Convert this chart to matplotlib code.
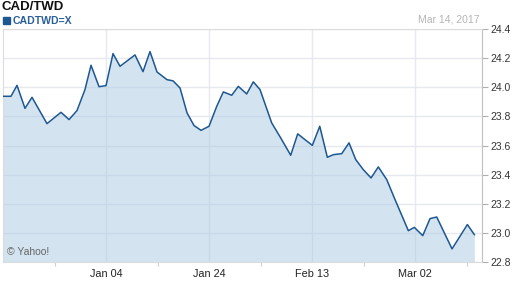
import matplotlib
matplotlib.use("Agg")
import matplotlib.pyplot as plt

# CAD/TWD, 3 month window (x = days from Dec 15)
days = [0, 1.55, 2.72, 4.27, 5.63, 8.54, 11.26, 12.82, 14.37, 15.92,
        17.09, 18.64, 20.0, 21.36, 22.72, 25.63, 27.18, 28.54, 29.9, 31.84,
        33.01, 34.37, 35.73, 37.09, 38.45, 40.0, 41.5, 42.78, 44.41, 45.69,
        47.32, 48.6, 49.9, 52.17, 53.92, 55.86, 57.22, 58.64, 60.06, 61.5,
        62.97, 64.14, 65.77, 67.18, 68.49, 69.96, 71.46, 72.87, 74.5, 76.12,
        78.7, 79.86, 81.5, 82.91, 84.21, 87.18, 90.16, 91.52]
rates = [23.938, 23.938, 24.013, 23.855, 23.931, 23.750, 23.828, 23.778, 23.840, 23.984,
         24.151, 24.004, 24.011, 24.231, 24.144, 24.222, 24.107, 24.245, 24.105, 24.052,
         24.044, 23.995, 23.824, 23.737, 23.704, 23.732, 23.869, 23.968, 23.945, 24.006,
         23.954, 24.037, 23.984, 23.755, 23.652, 23.533, 23.680, 23.640, 23.601, 23.732,
         23.519, 23.537, 23.544, 23.618, 23.503, 23.434, 23.377, 23.453, 23.366, 23.228,
         23.015, 23.038, 22.981, 23.098, 23.109, 22.890, 23.057, 22.988]

major_pos = [20, 40, 60, 80]
major_labels = ["Jan 04", "Jan 24", "Feb 13", "Mar 02"]
minor_pos = [10, 30, 50, 70, 90]
y_ticks = [22.8, 23.0, 23.2, 23.4, 23.6, 23.8, 24.0, 24.2, 24.4]

plt.rcParams['font.family'] = ['Liberation Sans', 'DejaVu Sans']

line_col = "#1d5791"
fig = plt.figure(figsize=(5.12, 2.88), dpi=100)
ax = fig.add_axes([3 / 512, 26 / 288, 479 / 512, 233 / 288])

ax.fill_between(days, rates, 22.8, color="#a9cbe3", alpha=0.5, lw=0, zorder=2)
ax.plot(days, rates, color=line_col, lw=1.1, zorder=3)

ax.set_xlim(0, 93.0)
ax.set_ylim(22.8, 24.4)
ax.set_yticks(y_ticks)
ax.set_yticklabels(["%.1f" % v for v in y_ticks])
ax.set_xticks(major_pos)
ax.set_xticklabels(major_labels)
ax.set_xticks(minor_pos, minor=True)

ax.yaxis.tick_right()
ax.grid(True, which="major", color="#e6e9ef", lw=1, zorder=1)
ax.tick_params(axis="y", which="major", direction="out", length=4, width=0.8,
               color="#b0b0b0", labelsize=7.5, labelcolor="#333333", pad=2)
ax.tick_params(axis="x", which="major", direction="out", length=0,
               labelsize=7.8, labelcolor="#222222", pad=5)
ax.tick_params(axis="x", which="minor", direction="out", length=3, width=0.8,
               color="#d0d0d0")
for side in ["left", "top", "bottom"]:
    ax.spines[side].set_color("#dcdcdc")
    ax.spines[side].set_linewidth(0.8)
ax.spines["right"].set_color("#c0c0c0")
ax.spines["right"].set_linewidth(0.8)

fig.text(1 / 512, 1 - 7 / 288, "CAD/TWD", fontsize=9.5, fontweight="bold",
         color="#111111", va="center", ha="left")
fig.patches.append(plt.Rectangle((3 / 512, 1 - 24 / 288), 7 / 512, 7 / 288,
                                 transform=fig.transFigure, color=line_col))
fig.text(13 / 512, 1 - 20.5 / 288, "CADTWD=X", fontsize=7.6, fontweight="bold",
         color="#2a5f99", va="center", ha="left")
fig.text(479 / 512, 1 - 20 / 288, "Mar 14, 2017", fontsize=7.5,
         color="#b4b4b4", va="center", ha="right")
ax.text(0.008, 0.045, "\u00a9 Yahoo!", transform=ax.transAxes, fontsize=7.5,
        color="#666666", va="center", ha="left", zorder=4)

fig.savefig("out.png", dpi=100)
